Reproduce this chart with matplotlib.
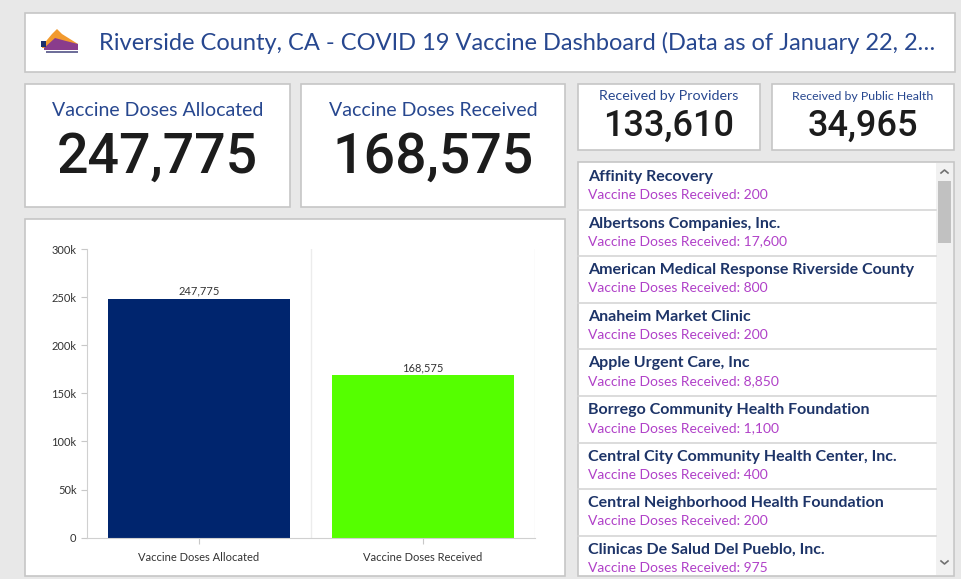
import matplotlib.pyplot as plt
from matplotlib.patches import Rectangle, Polygon
from matplotlib.ticker import FuncFormatter

plt.rcParams['font.family'] = ['Lato', 'DejaVu Sans']

# datos del dashboard
titulo = "Riverside County, CA - COVID 19 Vaccine Dashboard (Data as of January 22, 2\u2026"
categorias = ["Vaccine Doses Allocated", "Vaccine Doses Received"]
dosis = [247775, 168575]
colores = ["#00256e", "#55ff00"]
kpi_chicos = ["Received by Providers", "Received by Public Health"]
kpi_chicos_val = [133610, 34965]
proveedores = ["Affinity Recovery", "Albertsons Companies, Inc.",
               "American Medical Response Riverside County", "Anaheim Market Clinic",
               "Apple Urgent Care, Inc", "Borrego Community Health Foundation",
               "Central City Community Health Center, Inc.",
               "Central Neighborhood Health Foundation",
               "Clinicas De Salud Del Pueblo, Inc."]
proveedores_dosis = [200, 17600, 800, 200, 8850, 1100, 400, 200, 975]

W, H = 961, 579
azul = "#27478f"
numeros = ['Roboto', 'DejaVu Sans']
fig = plt.figure(figsize=(W / 100, H / 100), dpi=100)
fig.patch.set_facecolor("#e8e8e8")

# eje base en pixeles (origen arriba a la izquierda)
base = fig.add_axes([0, 0, 1, 1])
base.set_xlim(0, W)
base.set_ylim(H, 0)
base.axis("off")


def panel(x0, y0, x1, y1):
    base.add_patch(Rectangle((x0, y0), x1 - x0, y1 - y0, facecolor="white",
                             edgecolor="#c6c6c6", lw=1.2))


# barra de titulo
panel(25, 13, 955, 72)
base.text(99, 43, titulo, color=azul, fontsize=17, va="center", ha="left")
# logo simplificado
base.add_patch(Polygon([[42, 46], [52, 34], [57, 29], [62, 34], [78, 44], [78, 48], [42, 48]],
                       closed=True, facecolor="#f29a2e", edgecolor="none"))
base.add_patch(Polygon([[44, 48], [55, 38], [66, 41], [78, 44], [78, 50], [44, 50]],
                       closed=True, facecolor="#8a3c8c", edgecolor="none"))
base.add_patch(Rectangle((41, 41), 5, 6, facecolor="#1c2f6e", edgecolor="none"))
base.add_patch(Rectangle((46, 51), 32, 1.5, facecolor="#6f6f9a", edgecolor="none"))

# indicadores grandes
for (x0, x1), cat, val in zip([(25, 290), (301, 565)], categorias, dosis):
    panel(x0, 84, x1, 207)
    xc = (x0 + x1) / 2
    base.text(xc, 111, cat, color=azul, fontsize=14, ha="center", va="center")
    base.text(xc, 157, f"{val:,}", color="#1c1c1c", fontsize=40, fontweight="medium",
              family=numeros, ha="center", va="center")

# indicadores chicos
for (x0, x1), lab, val in zip([(578, 760), (772, 954)], kpi_chicos, kpi_chicos_val):
    panel(x0, 84, x1, 150)
    xc = (x0 + x1) / 2
    base.text(xc, 96, lab, color=azul, fontsize=10.3 if len(lab) < 24 else 8.9,
              ha="center", va="center")
    base.text(xc, 126, f"{val:,}", color="#1c1c1c", fontsize=26, fontweight="medium",
              family=numeros, ha="center", va="center")

# panel del grafico
panel(25, 219, 565, 576)
ax = fig.add_axes([87 / W, 1 - 537.7 / H, (535 - 87) / W, (537.7 - 249) / H])
x = range(len(categorias))
barras = ax.bar(x, dosis, width=0.81, color=colores)
for b in barras:
    ax.text(b.get_x() + b.get_width() / 2, b.get_height() + 2500, f"{int(b.get_height()):,}",
            ha="center", va="bottom", fontsize=8, color="#333333")
ax.set_xlim(-0.5, 1.5)
ax.set_ylim(0, 300000)
ax.set_yticks(range(0, 300001, 50000))
ax.yaxis.set_major_formatter(FuncFormatter(lambda v, p: "0" if v == 0 else f"{int(v / 1000)}k"))
ax.set_xticks(list(x))
ax.set_xticklabels(categorias)
ax.set_xticks([0.5, 1.5], minor=True)
ax.grid(True, which="minor", axis="x", color="#ececec", lw=1)
ax.tick_params(axis="both", which="major", labelsize=8, colors="#c8c8c8", labelcolor="#333333",
               length=4, width=0.8)
ax.tick_params(axis="x", which="major", pad=6)
ax.tick_params(axis="x", which="minor", length=0)
for lado in ["top", "right"]:
    ax.spines[lado].set_visible(False)
for lado in ["left", "bottom"]:
    ax.spines[lado].set_color("#d0d0d0")

# lista de proveedores
panel(578, 162, 954, 576)
alto = 46.6
for i, (nom, d) in enumerate(zip(proveedores, proveedores_dosis)):
    y0 = 163 + i * alto
    base.text(588, y0 + 14, nom, color="#1d3468", fontsize=11.5, fontweight="bold",
              ha="left", va="center")
    base.text(588, y0 + 32, f"Vaccine Doses Received: {d:,}", color="#b040c8",
              fontsize=10, ha="left", va="center")
    if i > 0:
        base.plot([578, 936], [y0, y0], color="#d6d6d6", lw=1.2)

# barra de desplazamiento
base.add_patch(Rectangle((936, 163), 17, 412, facecolor="#f1f1f1", edgecolor="none"))
base.add_patch(Rectangle((938, 181), 13, 62, facecolor="#c1c1c1", edgecolor="none"))
base.plot([941, 944.5, 948], [173, 170, 173], color="#707070", lw=1.2)
base.plot([941, 944.5, 948], [561, 564, 561], color="#707070", lw=1.2)

plt.savefig("out.png", dpi=100, facecolor=fig.get_facecolor())
